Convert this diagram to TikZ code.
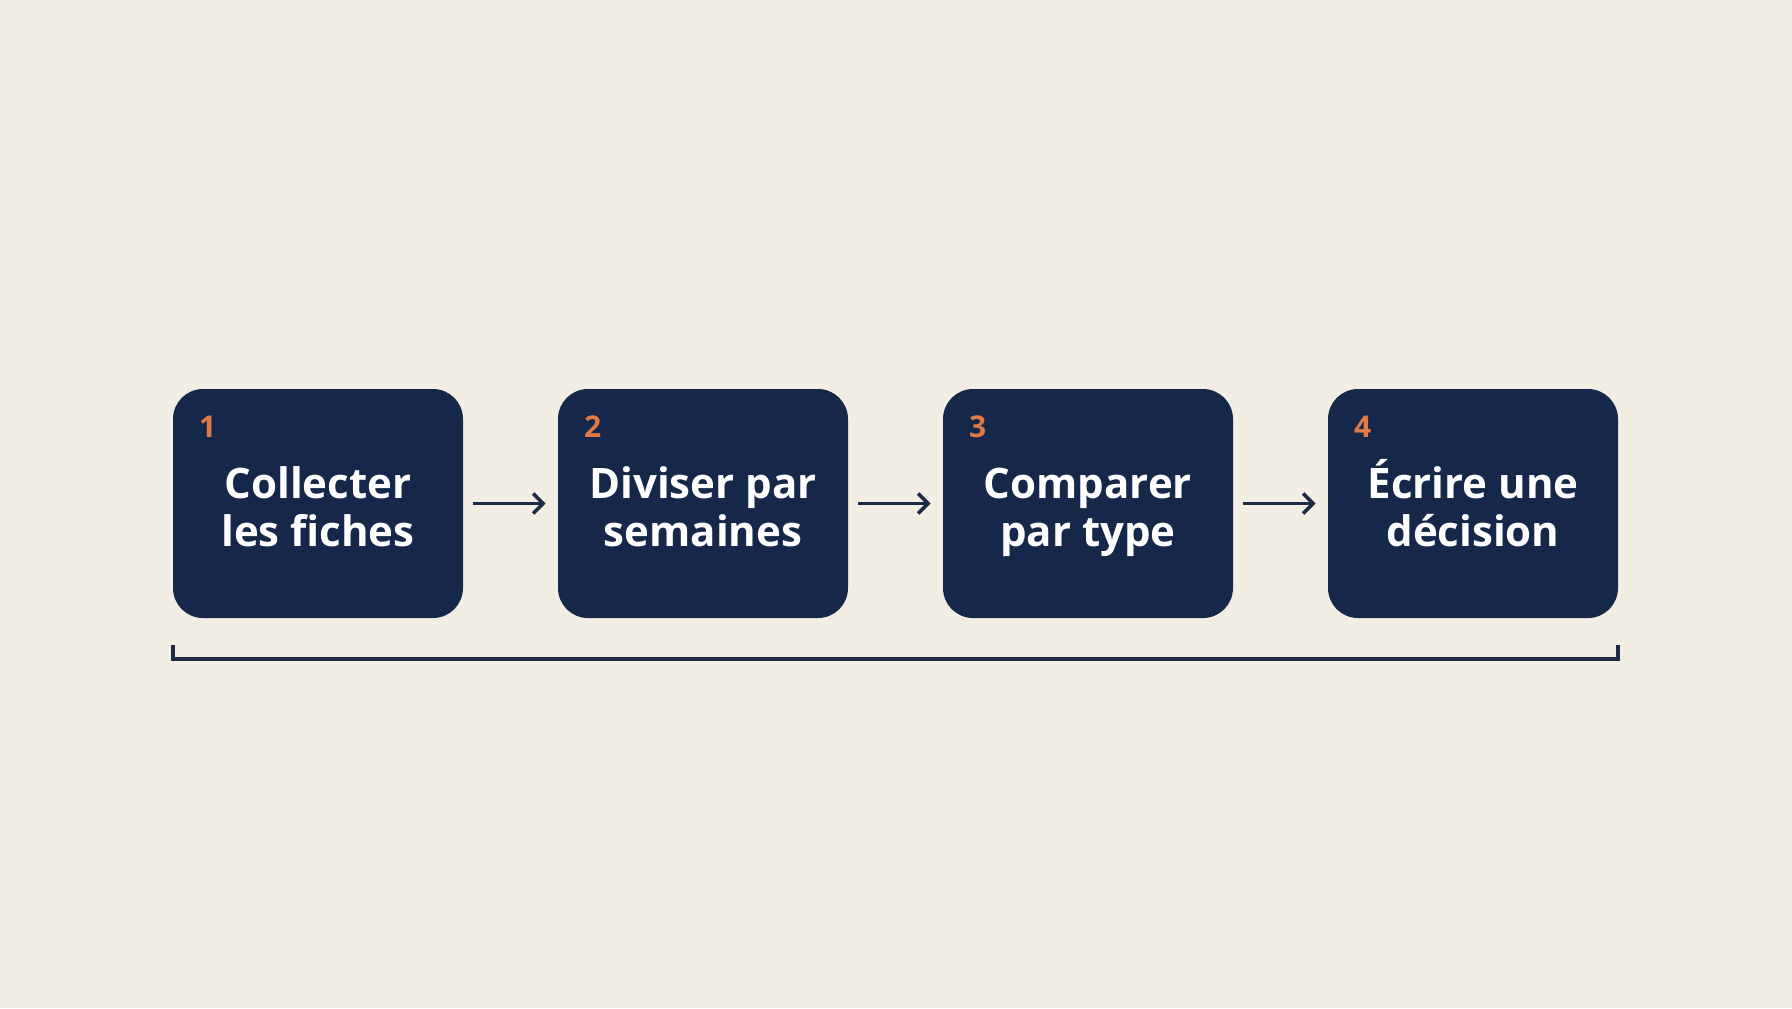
\documentclass[tikz,border=0pt]{standalone}
\usepackage{fontspec}
\setmainfont{Open Sans}
\usetikzlibrary{arrows.meta}
\definecolor{bg}{HTML}{F3EEE3}
\definecolor{navy}{HTML}{15284A}
\definecolor{ink}{HTML}{1C2A45}
\definecolor{accent}{HTML}{E07B45}
\newcommand{\firstline}[1]{\rule{0pt}{24.5pt}#1}
\newcommand{\secondline}[1]{\rule[-6pt]{0pt}{6pt}#1}
\begin{document}
\begin{tikzpicture}[x=0.5pt,y=-0.5pt,
  stepbox/.style={fill=navy, rounded corners=15pt, minimum width=145pt, minimum height=114.5pt,
    inner sep=0pt, text=white, font=\bfseries\fontsize{21}{24}\selectfont, align=center},
  num/.style={text=accent, font=\bfseries\fontsize{15}{15}\selectfont, anchor=base west, inner sep=0pt},
  conn/.style={draw=ink, line width=1.8pt, -{Straight Barb[length=5pt,width=10pt,line width=1.8pt]},
    shorten <=5pt, shorten >=6pt},
  bracket/.style={draw=ink, line width=2pt}]
\fill[bg] (0,0) rectangle (1792,1008);
\useasboundingbox (0,0) rectangle (1792,1008);

\node[stepbox] (b1) at (318,503.5) {\firstline{Collecter}\\\secondline{les fiches}};
\node[stepbox] (b2) at (703,503.5) {\firstline{Diviser par}\\\secondline{semaines}};
\node[stepbox] (b3) at (1088,503.5) {\firstline{Comparer}\\\secondline{par type}};
\node[stepbox] (b4) at (1473,503.5) {\firstline{Écrire une}\\\secondline{décision}};

\node[num] (n1) at ([xshift=13pt,yshift=-24.5pt]b1.north west) {1};
\node[num] (n2) at ([xshift=13pt,yshift=-24.5pt]b2.north west) {2};
\node[num] (n3) at ([xshift=13pt,yshift=-24.5pt]b3.north west) {3};
\node[num] (n4) at ([xshift=13pt,yshift=-24.5pt]b4.north west) {4};

\draw[conn] (b1) -- (b2);
\draw[conn] (b2) -- (b3);
\draw[conn] (b3) -- (b4);

\coordinate (bl) at ([yshift=-13.5pt]b1.south west);
\coordinate (br) at ([yshift=-13.5pt]b4.south east);
\draw[bracket] (bl) -- ++(0,14) -| (br);
\end{tikzpicture}
\end{document}
